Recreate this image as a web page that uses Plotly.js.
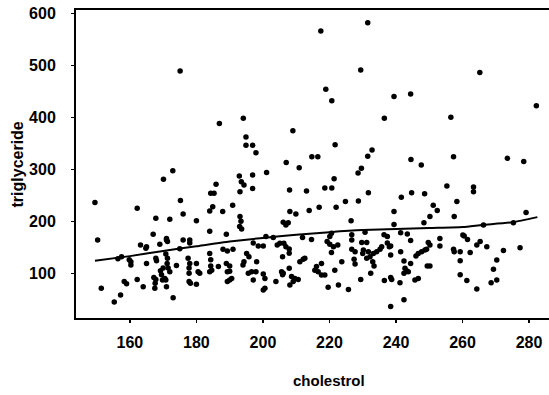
<!DOCTYPE html>
<html>
<head>
<meta charset="utf-8">
<script src="https://cdn.plot.ly/plotly-3.0.1.min.js"></script>
<style>html,body{margin:0;padding:0;background:#fff}#chart{width:549px;height:395px}</style>
</head>
<body>
<div id="chart"></div>
<script>
// cholesterol (x) and triglyceride (y) observations
const cholestrol = [
149.5,150.3,151.4,155.3,157.2,156.4,157.5,158.3,159,159.8,
162.2,175.2,184.9,184,190.9,167.8,172,176,180,193.1,187.9,167,171,171,184,189,193.6,193,163.2,165,164.8,169,171.3,176,178,178,175,160.3,160.3,165,168,167.8,170.8,171.3,170,169.2,171.2,171.5,172,174,177.5,178,177.8,177.8,180,180.5,181,184,184.3,184.3,184.6,184,186.6,188,189.3,189,190,190,189.3,191,194,162.2,164,167.2,167.8,167.6,167.5,169.5,169.8,170.5,170.8,171,177.8,178.2,180,189.3,190,190.6,173,193.4,
208.1,209.9,213.9,216.9,222,224.8,206.1,206.9,207.6,226.5,197.1,198.6,200.1,200.9,203.1,204.3,205.1,206.3,206.9,207.9,207.9,205.9,211.9,214.6,219.3,220.1,220.6,220.1,221.2,222.5,220.6,226.7,195.1,195.8,198.1,194.3,196.6,197.9,195.6,200.1,200.6,197.1,203.9,205.6,206.1,205.9,207.9,208.6,209.6,210.6,208.1,209.1,200.1,200.6,211.1,212.1,212.6,216.1,215.6,216.6,217.6,217.6,218.6,221.6,223.7,219.6,222.7,225.7,226.7,
228.7,239.4,251.2,252.4,250.2,248.4,258.3,257.5,230.7,236.4,237.4,241.4,243.4,244.4,253.2,260.1,229.7,231.2,230.2,230,231.7,232.2,233.2,234.2,235.2,235.7,226.7,227.7,227.4,227.7,231.2,233,233.4,232.4,229.4,237.4,238,238.4,238.4,241.4,242.4,242.7,243.2,243.7,242.4,244.4,246,246.7,247.7,248.7,249.7,250.2,249.2,249.4,250.2,253.2,245.7,246.7,241.2,236.5,238.4,238.7,257.3,257.5,259.3,259.3,259.3,242.4,238.4,239.4,
279.1,266.3,275.3,260.5,261.5,262.3,264.3,265.3,267.3,272.3,277.3,270.3,269.3,261.3,264.3,268.6,270.3,
170.1,172.9,175.1,184.3,185.3,185.9,186.9,192.9,193.1,193.5,194.1,194.3,194.9,194.9,196.9,196.9,196.9,197.9,201.1,207,208,209,210.9,213.1,214.7,216.5,217.4,218.9,218.6,220.7,220.7,221.4,221.7,228.6,229.4,229.6,231.5,231.5,231.7,232.8,236.5,239.4,241.6,244.4,244.5,244.7,247.6,248.6,255.3,256.5,257.3,263.3,263.3,265.2,273.5,278.4,282.2
];
const triglyceride = [
236,164,71,45,58,128,132,84,80,126,
225,240,228,220,231,206,204,214,201,209,218.6,175,167,164,181,175,185,190,154.5,151,148,156,161,164,164,158,147,122,116,119,124,129,137,129,110,105,119,110,103,115,129,119,110,100,119,103,100,138,126,114,106,103,113,146,143,119,114,104,103,146,116,88,74,92,88,81,71,97,87,90,87,74,84,81,79,84,87,90,53,200,
218.6,214,220.5,227,227,238,198,193,197,201,158,152.5,152.5,170.5,169,154.5,157.7,157.7,151,146.8,138.4,132,169,165,161,170.5,177,156,151,154.5,140,164,138,132,122.4,122,103,103,100,98.7,90,87,84,103,100,97,109.6,93.6,90,88,77.5,84,68,71,122.4,127,129,113,106,103,119,96.8,96.8,106,122,73,77.5,69,174,
239,218.6,231,220.5,209,197,238,209,179,174,170.5,178,175.6,163,167,173.7,159,159,145,138,141.6,132,138,141.6,146,151,146,141.6,127,118,129,122,114,100,88,158,151,152.5,135,141.6,123.7,109.6,105,103,100,119,133,138,141.6,145,159,154.5,146,114,114,152.5,87,90,82,86,92,88,146,141.6,141.6,124,97,49,36,194,
217,193,197,171.8,165,140,154.5,161,151,143.6,149,125.6,107.7,86,70,82,87,
281,297,489,254,254,271,388,287,257,276,398,270,362,346,289,346,263,332,294,313,260,374,303,258,324,324,566,454,264,432,264,282,347,293,491,302,582,325,255,337,398,440,246,445,319,255,308,253,268,400,324,266,257,486,321,315,422
];
// smooth (lowess-like) curve
const smoothX = [149.5,160,170,180,190,200,210,220,230,240,250,260,266,275,282.5];
const smoothY = [124,133,143,152,161,168,174,179,183,185,187,189,193,198,208];
const xTicks = [160,180,200,220,240,260,280];
const yTicks = [100,200,300,400,500,600];

const fontFam = 'Liberation Sans Narrow, Liberation Sans, Arial, sans-serif';
const traces = [
  {x: cholestrol, y: triglyceride, mode: 'markers', type: 'scatter',
   marker: {color: '#000', size: 5.5}, hoverinfo: 'skip'},
  {x: smoothX, y: smoothY, mode: 'lines', type: 'scatter',
   line: {color: '#000', width: 2, shape: 'spline', smoothing: 0.6}, hoverinfo: 'skip'}
];
const layout = {
  width: 549, height: 395,
  margin: {l: 76, r: 0, t: 10, b: 77},
  paper_bgcolor: '#fff', plot_bgcolor: '#fff',
  showlegend: false,
  font: {family: fontFam, color: '#000', size: 16, weight: 700},
  xaxis: {range: [143.8, 286], tickvals: xTicks, ticktext: xTicks.map(String),
    showgrid: false, zeroline: false, showline: true, mirror: true, linecolor: '#000', linewidth: 2,
    ticks: 'outside', ticklen: 3, tickwidth: 1.5, tickcolor: '#000', ticklabelstandoff: 6,
    tickfont: {family: fontFam, size: 16, color: '#000', weight: 700}},
  yaxis: {range: [14, 606.3], tickvals: yTicks, ticktext: yTicks.map(String),
    showgrid: false, zeroline: false, showline: true, linecolor: '#000', linewidth: 2,
    ticks: 'outside', ticklen: 3, tickwidth: 1.5, tickcolor: '#000', ticklabelstandoff: 12,
    tickfont: {family: fontFam, size: 16, color: '#000', weight: 700}},
  annotations: [
    {text: 'cholestrol', xref: 'paper', yref: 'paper', x: 0.535, y: -0.2045,
     xanchor: 'center', yanchor: 'middle', showarrow: false,
     font: {family: fontFam, size: 15, color: '#000', weight: 700}},
    {text: 'triglyceride', xref: 'paper', yref: 'paper', x: -0.1237, y: 0.5,
     xanchor: 'center', yanchor: 'middle', textangle: -90, showarrow: false,
     font: {family: fontFam, size: 16, color: '#000', weight: 700}}
  ]
};
Plotly.newPlot('chart', traces, layout, {staticPlot: true, displayModeBar: false});
</script>
</body>
</html>
